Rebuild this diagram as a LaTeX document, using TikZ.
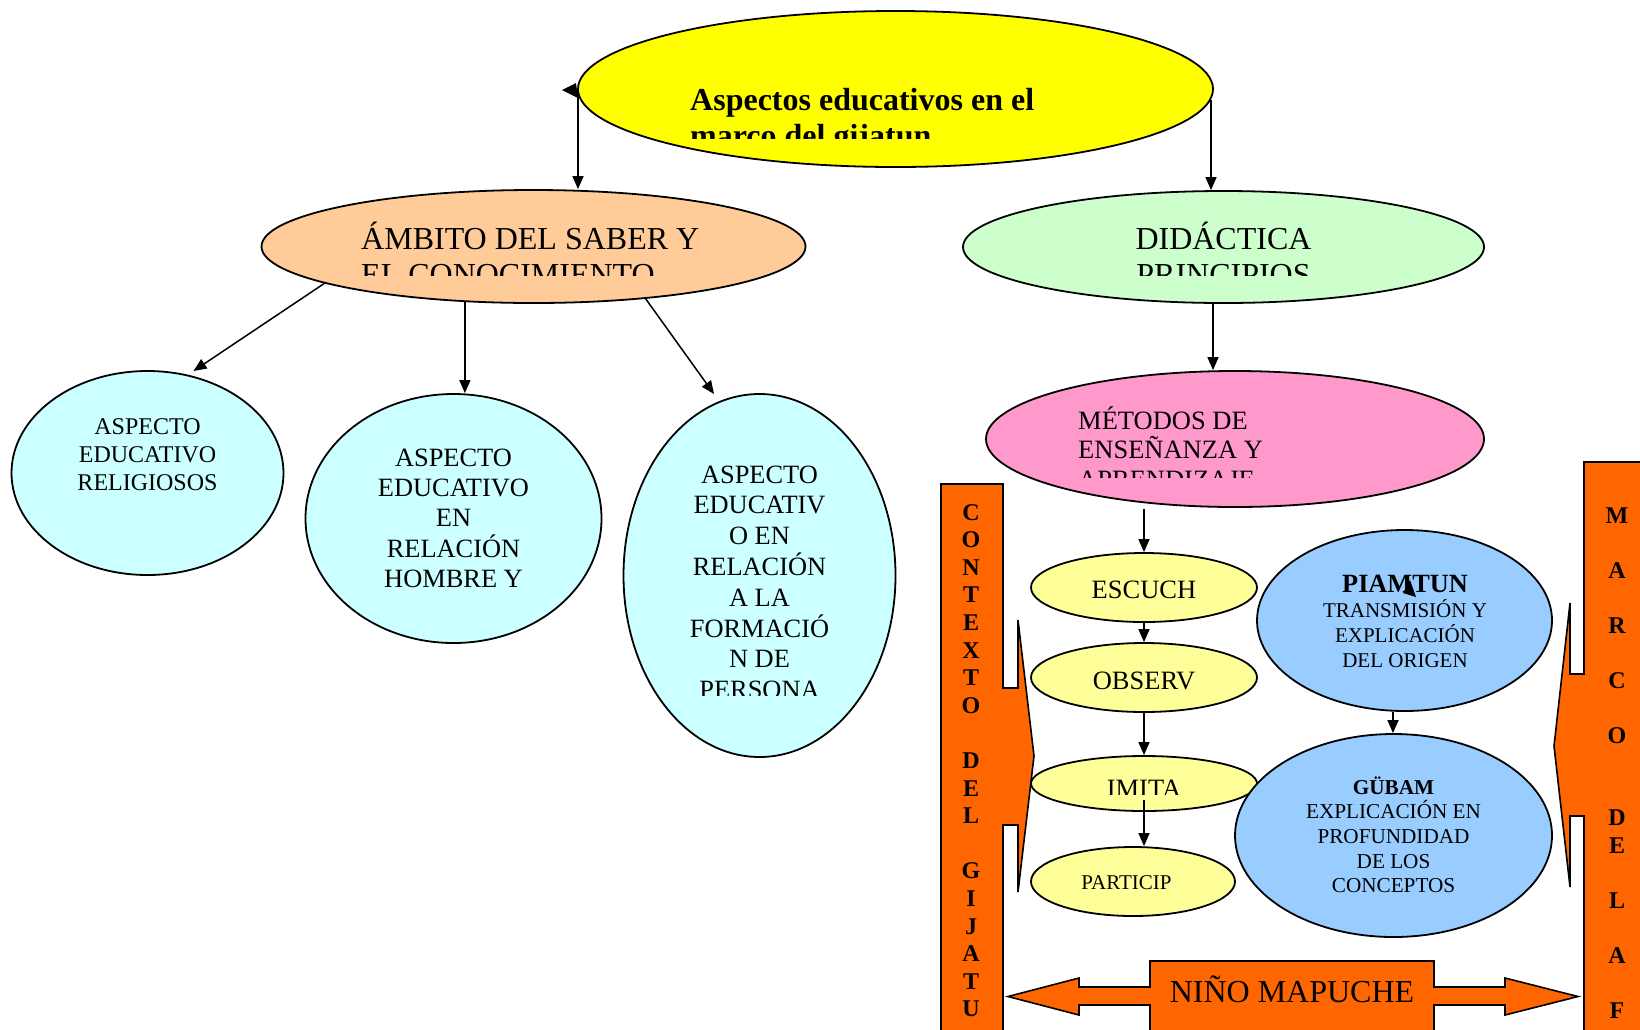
\documentclass[tikz,border=0pt]{standalone}
\usepackage{fontspec}
\setmainfont{Liberation Serif}
\usetikzlibrary{shapes.geometric,arrows.meta}
\newcommand{\LL}[1]{\vtop{\halign{##\hfil\cr#1\crcr}}}
\newcommand{\CL}[1]{\vtop{\halign{\hfil##\hfil\cr#1\crcr}}}
\newcommand{\fs}[2]{\fontsize{#1}{#2}\selectfont}
\definecolor{yel}{HTML}{FFFF00}
\definecolor{peach}{HTML}{FFCC99}
\definecolor{mint}{HTML}{CCFFCC}
\definecolor{rose}{HTML}{FF99CC}
\definecolor{cyanL}{HTML}{CCFFFF}
\definecolor{lyel}{HTML}{FFFF99}
\definecolor{sky}{HTML}{99CCFF}
\definecolor{orng}{HTML}{FF6600}
\begin{document}
\begin{tikzpicture}[x=1pt,y=-1pt,
  ell/.style={ellipse,draw=black,line width=1.8pt,inner sep=0pt},
  txt/.style={inner sep=0pt,anchor=base},
  txtl/.style={inner sep=0pt,anchor=base west},
  arr/.style={line width=1.5pt,-{Triangle[length=13pt,width=11pt]}},
  callout/.style={draw=black,line width=1.6pt,fill=orng,line join=miter}]
\useasboundingbox (0,0) rectangle (1640,1029);
\fill[white] (0,0) rectangle (1640,1029);
\clip (0,0) rectangle (1640,1029);

% ---- callouts
\path[callout] (941,484) -- (1003,484) -- (1003,688) -- (1018,688) -- (1018,620) -- (1034,756) -- (1018,892) -- (1018,825) -- (1003,825) -- (1003,1045) -- (941,1045) -- cycle;
\node[txt,font=\fs{24}{27.6}\bfseries] (ctx) at (971,520) {\CL{C\cr O\cr N\cr T\cr E\cr X\cr T\cr O\cr \cr D\cr E\cr L\cr \cr G\cr I\cr J\cr A\cr T\cr U}};

\path[callout] (1660,462) -- (1584,462) -- (1584,674) -- (1570,674) -- (1570,603) -- (1554,746) -- (1570,887) -- (1570,816) -- (1584,816) -- (1584,1045) -- (1660,1045) -- cycle;
\node[txt,font=\fs{24}{27.5}\bfseries] (marco) at (1617,523) {\CL{M\cr \cr A\cr \cr R\cr \cr C\cr \cr O\cr \cr \cr D\cr E\cr \cr L\cr \cr A\cr \cr F}};

\path[callout] (1150,961) -- (1434,961) -- (1434,987) -- (1505,987) -- (1505,978) -- (1578,996.5) -- (1505,1015) -- (1505,1005) -- (1434,1005) -- (1434,1045) -- (1150,1045) -- (1150,1005) -- (1079,1005) -- (1079,1015) -- (1008,996.5) -- (1079,978) -- (1079,987) -- (1150,987) -- cycle;
\node[txt,font=\fs{32}{36}] (nino) at (1292,1002) {NIÑO MAPUCHE};

% ---- title
\node[ell,fill=yel,minimum width=635pt,minimum height=156pt] (title) at (895.5,89) {};
\begin{scope}
\clip (585,20) rectangle (1205,138);
\node[txtl,font=\fs{32}{36.8}\bfseries] (titletxt) at (690,110) {\LL{Aspectos educativos en el\cr marco del gijatun}};
\end{scope}

% ---- second level
\node[ell,fill=peach,minimum width=544pt,minimum height=113pt] (ambito) at (533.5,246.5) {};
\begin{scope}
\clip (265,195) rectangle (800,275);
\node[txtl,font=\fs{32}{36.8}] (ambitotxt) at (361,249) {\LL{ÁMBITO DEL SABER Y\cr EL CONOCIMIENTO}};
\end{scope}

\node[ell,fill=mint,minimum width=521pt,minimum height=112pt] (didactica) at (1223.5,247) {};
\begin{scope}
\clip (970,195) rectangle (1480,275);
\node[txt,font=\fs{32}{36.8}] (didtxt) at (1223.5,249) {\CL{DIDÁCTICA\cr PRINCIPIOS}};
\end{scope}

\node[ell,fill=rose,minimum width=498pt,minimum height=136pt] (metodos) at (1235,439) {};
\begin{scope}
\clip (990,375) rectangle (1480,477);
\node[txtl,font=\fs{26.5}{29.5}] (mettxt) at (1078,429) {\LL{MÉTODOS DE\cr ENSEÑANZA Y\cr APRENDIZAJE}};
\end{scope}

% ---- cyan
\node[ell,fill=cyanL,minimum width=272pt,minimum height=204pt] (cyan1) at (147.5,473) {};
\node[txt,font=\fs{24}{28.2}] (c1txt) at (147.5,434) {\CL{ASPECTO\cr EDUCATIVO\cr RELIGIOSOS}};

\node[ell,fill=cyanL,minimum width=296pt,minimum height=249pt] (cyan2) at (453.5,518.5) {};
\node[txt,font=\fs{26.4}{30.4}] (c2txt) at (453.5,466) {\CL{ASPECTO\cr EDUCATIVO\cr EN\cr RELACIÓN\cr HOMBRE Y}};

\node[ell,fill=cyanL,minimum width=272pt,minimum height=363pt] (cyan3) at (759.5,575.5) {};
\begin{scope}
\clip (625,400) rectangle (895,695);
\node[txt,font=\fs{26.4}{30.8}] (c3txt) at (759.5,483) {\CL{ASPECTO\cr EDUCATIV\cr O EN\cr RELACIÓN\cr A LA\cr FORMACIÓ\cr N DE\cr PERSONA}};
\end{scope}

% ---- yellow chain
\node[ell,fill=lyel,minimum width=226pt,minimum height=69pt] (escuch) at (1144,587.5) {};
\node[txt,font=\fs{26.5}{30}] (esctxt) at (1144,598) {ESCUCH};
\node[ell,fill=lyel,minimum width=226pt,minimum height=69pt] (observ) at (1144,677.5) {};
\node[txt,font=\fs{26.5}{30}] (obstxt) at (1144,689) {OBSERV};
\node[ell,fill=lyel,minimum width=226pt,minimum height=55pt] (imita) at (1144,783.5) {};
\begin{scope}
\clip (1035,760) rectangle (1255,794);
\node[txt,font=\fs{26.5}{30}] (imitxt) at (1144,797) {IMITA};
\end{scope}
\node[ell,fill=lyel,minimum width=204pt,minimum height=69pt] (particip) at (1133,881.5) {};
\node[txt,font=\fs{21}{24}] (partxt) at (1126.5,889) {PARTICIP};

% ---- blue
\node[ell,fill=sky,minimum width=295pt,minimum height=181pt] (piamtun) at (1404.5,620.5) {};
\node[txt,font=\fs{21}{25}] (piamtxt) at (1405,592) {\CL{{\fs{26.3}{30}\bfseries PIAMTUN}\cr TRANSMISIÓN Y\cr EXPLICACIÓN\cr DEL ORIGEN}};
\fill (1410,580) -- (1403,593) -- (1416,597) -- cycle;

\node[ell,fill=sky,minimum width=317pt,minimum height=203pt] (gubam) at (1393.5,835.5) {};
\node[txt,font=\fs{21.2}{24.7}] (gubtxt) at (1393.5,794) {\CL{\bfseries GÜBAM\cr EXPLICACIÓN EN\cr PROFUNDIDAD\cr DE LOS\cr CONCEPTOS}};

% ---- connectors
\coordinate (tl) at (578,90);
\draw[arr] (tl) -- (tl |- ambito.north);
\fill (562,90) -- (576,83) -- (578,98) -- cycle;
\coordinate (tr) at (1211,100);
\draw[arr] (tr) -- (tr |- didactica.north);

\coordinate (c1tip) at (193.5,371);
\coordinate (c3tip) at (714,394);
\draw[arr] (ambito.190) -- (c1tip);
\draw[arr] (ambito.219) -- (ambito.219 |- cyan2.north);
\draw[arr] (ambito.335) -- (c3tip);

\coordinate (xg) at (1213,300);
\draw[arr] (xg |- didactica.south) -- (xg |- metodos.north);

\coordinate (m1) at (1144,509);
\draw[arr] (m1) -- (escuch.north);
\draw[arr] (escuch.south) -- (observ.north);
\draw[arr] (observ.south) -- (imita.north);
\coordinate (i1) at (1144,800);
\draw[arr] (i1) -- (i1 |- particip.north);
\coordinate (p1) at (1393,700);
\draw[arr] (p1 |- piamtun.south) -- (p1 |- gubam.north);
\end{tikzpicture}
\end{document}
